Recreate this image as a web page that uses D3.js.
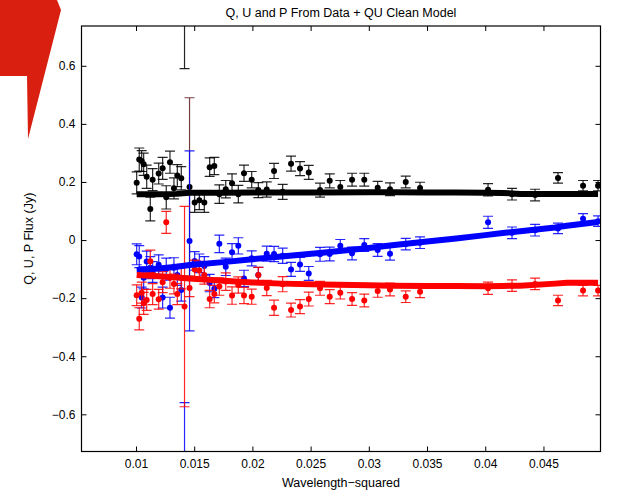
<!DOCTYPE html>
<html>
<head>
<meta charset="utf-8">
<script src="https://cdn.jsdelivr.net/npm/d3@7"></script>
<style>
  body { margin: 0; background: #fff; }
  svg { display: block; font-family: "Liberation Sans", Arial, Helvetica, sans-serif; }
</style>
</head>
<body>
<div id="chart"></div>
<script>
// Wavelength-squared of each channel
const lambda2 = [0.01006, 0.01028, 0.01049, 0.01066, 0.01092, 0.01123, 0.01143, 0.01195, 0.01229, 0.01260,
                 0.01292, 0.01326, 0.01355, 0.01389, 0.01417, 0.01460, 0.01504, 0.01544, 0.01587, 0.01633,
                 0.01673, 0.01716, 0.01771, 0.01825, 0.01879, 0.01928, 0.01994, 0.02051, 0.02123, 0.02186,
                 0.02260, 0.02332, 0.02409, 0.02484, 0.02581, 0.02664, 0.02755, 0.02856, 0.02961, 0.03076,
                 0.03182, 0.03317, 0.03440, 0.04024, 0.04230, 0.04428, 0.04625, 0.04840, 0.04969]

// Measured fluxes (Jy)
const pFlux = [0.197, 0.277, 0.272, 0.261, 0.218, 0.107, 0.208, 0.229, 0.247, 0.147,
               0.268, 0.178, 0.222, 0.213, 0.950, 0.183, 0.129, 0.137, 0.129, 0.251,
               0.255, 0.158, 0.175, 0.196, 0.158, 0.230, 0.208, 0.172, 0.174, 0.238,
               0.166, 0.263, 0.246, 0.233, 0.172, 0.204, 0.183, 0.208, 0.208, 0.180,
               0.175, 0.200, 0.179, 0.173, 0.158, 0.155, 0.214, 0.187, 0.187]
const uFlux = [-0.049, -0.057, -0.198, -0.130, -0.074, -0.095, -0.110, -0.085, -0.198, -0.100,
               -0.233, -0.095, -0.120, -0.172, -0.950, -0.003, -0.072, -0.080, -0.089, -0.148,
               -0.168, -0.013, -0.092, -0.042, -0.020, -0.132, -0.063, -0.120, -0.047, -0.048,
               -0.054, -0.101, -0.084, -0.115, -0.049, -0.048, -0.020, -0.046, -0.017, -0.034,
               -0.047, -0.014, -0.009, 0.061, 0.025, 0.034, 0.040, 0.073, 0.065]
const qFlux = [-0.190, -0.271, -0.181, -0.218, -0.206, -0.073, -0.186, -0.204, -0.145, 0.061,
               -0.130, -0.151, -0.186, -0.130, -0.229, -0.165, -0.101, -0.105, -0.120, -0.203,
               -0.186, -0.160, -0.143, -0.191, -0.155, -0.191, -0.195, -0.120, -0.165, -0.233,
               -0.152, -0.241, -0.229, -0.203, -0.166, -0.195, -0.181, -0.203, -0.208, -0.175,
               -0.170, -0.195, -0.178, -0.166, -0.157, -0.151, -0.208, -0.174, -0.174]

// 1-sigma errors (Jy)
const pErr = [0.038, 0.040, 0.036, 0.038, 0.040, 0.041, 0.038, 0.036, 0.038, 0.040,
              0.038, 0.036, 0.038, 0.040, 0.360, 0.307, 0.034, 0.032, 0.034, 0.032,
              0.030, 0.032, 0.030, 0.032, 0.030, 0.028, 0.028, 0.026, 0.026, 0.026,
              0.026, 0.026, 0.024, 0.024, 0.024, 0.024, 0.022, 0.022, 0.022, 0.022,
              0.022, 0.020, 0.020, 0.021, 0.020, 0.020, 0.018, 0.018, 0.018]
const uErr = [0.036, 0.038, 0.036, 0.038, 0.036, 0.038, 0.036, 0.034, 0.036, 0.038,
              0.036, 0.034, 0.036, 0.038, 0.390, 0.310, 0.032, 0.032, 0.032, 0.030,
              0.030, 0.030, 0.030, 0.030, 0.028, 0.028, 0.026, 0.026, 0.026, 0.026,
              0.026, 0.024, 0.024, 0.024, 0.024, 0.024, 0.022, 0.022, 0.022, 0.022,
              0.022, 0.020, 0.020, 0.021, 0.020, 0.020, 0.018, 0.018, 0.018]
const qErr = [0.036, 0.038, 0.036, 0.038, 0.036, 0.038, 0.036, 0.034, 0.036, 0.038,
              0.036, 0.034, 0.036, 0.038, 0.345, 0.030, 0.032, 0.032, 0.032, 0.030,
              0.030, 0.030, 0.030, 0.030, 0.028, 0.028, 0.026, 0.026, 0.026, 0.026,
              0.026, 0.024, 0.024, 0.024, 0.024, 0.024, 0.022, 0.022, 0.022, 0.022,
              0.022, 0.020, 0.020, 0.021, 0.020, 0.020, 0.018, 0.018, 0.018]

// QU clean model
const modelL2 = [0.01006, 0.0120, 0.0135, 0.0146, 0.0175, 0.0200, 0.0225, 0.0260, 0.0300, 0.0320,
                 0.0350, 0.0375, 0.0400, 0.0415, 0.0430, 0.0460, 0.0470, 0.04969]
const modelP = [0.158, 0.158, 0.159, 0.163, 0.163, 0.164, 0.164, 0.164, 0.165, 0.165,
                0.164, 0.164, 0.163, 0.162, 0.159, 0.159, 0.159, 0.159]
const modelU = [-0.103, -0.098, -0.092, -0.086, -0.076, -0.066, -0.057, -0.044, -0.027, -0.018,
                -0.005, 0.005, 0.017, 0.024, 0.030, 0.043, 0.049, 0.062]
const modelQ = [-0.120, -0.125, -0.129, -0.132, -0.140, -0.146, -0.150, -0.153, -0.156, -0.157,
                -0.158, -0.158, -0.159, -0.158, -0.157, -0.150, -0.147, -0.147]

const xTicks = [0.01, 0.015, 0.02, 0.025, 0.03, 0.035, 0.04, 0.045]
const yTicks = [-0.6, -0.4, -0.2, 0, 0.2, 0.4, 0.6]

function drawChart(container) {
    const WIDTH = 624
    const HEIGHT = 494
    const PLOT = {LEFT:81.5, RIGHT:600.5, TOP:26, BOTTOM:451.5}

    let svg = d3.select(container).append("svg")
        .attr("width", WIDTH)
        .attr("height", HEIGHT)

    let xScale = d3.scaleLinear().domain([0.00532, 0.0499]).range([PLOT.LEFT, PLOT.RIGHT])
    let yScale = d3.scaleLinear().domain([-0.728, 0.737]).range([PLOT.BOTTOM, PLOT.TOP])

    svg.append("clipPath").attr("id", "plotclip")
        .append("rect")
        .attr("x", PLOT.LEFT).attr("y", PLOT.TOP)
        .attr("width", PLOT.RIGHT - PLOT.LEFT).attr("height", PLOT.BOTTOM - PLOT.TOP)

    let plot = svg.append("g").attr("clip-path", "url(#plotclip)")

    const series = [
        {name:"P", values:pFlux, err:pErr, colour:"#000000"},
        {name:"U", values:uFlux, err:uErr, colour:"#0000ff"},
        {name:"Q", values:qFlux, err:qErr, colour:"#ff0000"}
    ]
    const CAP = 5

    series.forEach(s => {
        let pts = lambda2.map((x, i) => ({x:x, y:s.values[i], e:s.err[i]}))
        // the P channel with the big error bar next to the Q one shows up dark red
        let barColour = d => (s.name == "P" && d.e > 0.3 && d.e < 0.35) ? "#5e1f22" : s.colour
        let g = plot.append("g").attr("class", "series-" + s.name)
        let bars = g.selectAll("g.bar").data(pts).enter().append("g")
            .attr("stroke", barColour)
            .attr("stroke-width", 1.2)
            .attr("stroke-opacity", 0.85)
        bars.append("line")
            .attr("x1", d => xScale(d.x)).attr("x2", d => xScale(d.x))
            .attr("y1", d => yScale(d.y - d.e)).attr("y2", d => yScale(d.y + d.e))
        bars.append("line")
            .attr("x1", d => xScale(d.x) - CAP).attr("x2", d => xScale(d.x) + CAP)
            .attr("y1", d => yScale(d.y + d.e)).attr("y2", d => yScale(d.y + d.e))
        bars.append("line")
            .attr("x1", d => xScale(d.x) - CAP).attr("x2", d => xScale(d.x) + CAP)
            .attr("y1", d => yScale(d.y - d.e)).attr("y2", d => yScale(d.y - d.e))
        g.selectAll("circle").data(pts).enter().append("circle")
            .attr("cx", d => xScale(d.x))
            .attr("cy", d => yScale(d.y))
            .attr("r", 3)
            .attr("fill", s.colour)
    })

    // model lines, drawn thick over the data
    const models = [
        {values:modelP, colour:"#000000"},
        {values:modelU, colour:"#0000ff"},
        {values:modelQ, colour:"#ff0000"}
    ]
    let line = d3.line().x(d => xScale(d[0])).y(d => yScale(d[1]))
    models.forEach(m => {
        plot.append("path")
            .datum(modelL2.map((x, i) => [x, m.values[i]]))
            .attr("d", line)
            .attr("fill", "none")
            .attr("stroke", m.colour)
            .attr("stroke-width", 6)
    })

    // axes, MATLAB style: ticks inside on all four sides
    const fmt = d => d3.format("")(d).replace("-", "\u2212")
    let axes = [
        svg.append("g").attr("transform", "translate(0," + PLOT.BOTTOM + ")")
            .call(d3.axisBottom(xScale).tickValues(xTicks).tickSize(-5).tickPadding(8).tickFormat(fmt)),
        svg.append("g").attr("transform", "translate(0," + PLOT.TOP + ")")
            .call(d3.axisTop(xScale).tickValues(xTicks).tickSize(-5).tickFormat("")),
        svg.append("g").attr("transform", "translate(" + PLOT.LEFT + ",0)")
            .call(d3.axisLeft(yScale).tickValues(yTicks).tickSize(-5).tickPadding(6).tickFormat(fmt)),
        svg.append("g").attr("transform", "translate(" + PLOT.RIGHT + ",0)")
            .call(d3.axisRight(yScale).tickValues(yTicks).tickSize(-5).tickFormat(""))
    ]
    axes.forEach(a => {
        a.select(".domain").remove()
        a.selectAll("text").attr("font-size", 12).attr("fill", "#000").attr("font-family", null)
        a.selectAll("line").attr("stroke", "#000")
    })

    svg.append("rect")
        .attr("x", PLOT.LEFT).attr("y", PLOT.TOP)
        .attr("width", PLOT.RIGHT - PLOT.LEFT).attr("height", PLOT.BOTTOM - PLOT.TOP)
        .attr("fill", "none").attr("stroke", "#000").attr("stroke-width", 1.2)

    svg.append("text")
        .attr("x", (PLOT.LEFT + PLOT.RIGHT) / 2).attr("y", 17)
        .attr("text-anchor", "middle").attr("font-size", 12.5)
        .text("Q, U and P From Data + QU Clean Model")

    svg.append("text")
        .attr("x", (PLOT.LEFT + PLOT.RIGHT) / 2).attr("y", 487)
        .attr("text-anchor", "middle").attr("font-size", 12.5)
        .text("Wavelength\u2212squared")

    svg.append("text")
        .attr("transform", "translate(33," + ((PLOT.TOP + PLOT.BOTTOM) / 2) + ") rotate(-90)")
        .attr("text-anchor", "middle").attr("font-size", 12.5)
        .text("Q, U, P Flux (Jy)")

    // red marker pasted over the top left corner of the figure
    svg.append("polygon")
        .attr("points", "0,0 57,0 61,10 28,139 27,76 0,76")
        .attr("fill", "#d81f10")
}

drawChart("#chart")
</script>
</body>
</html>
